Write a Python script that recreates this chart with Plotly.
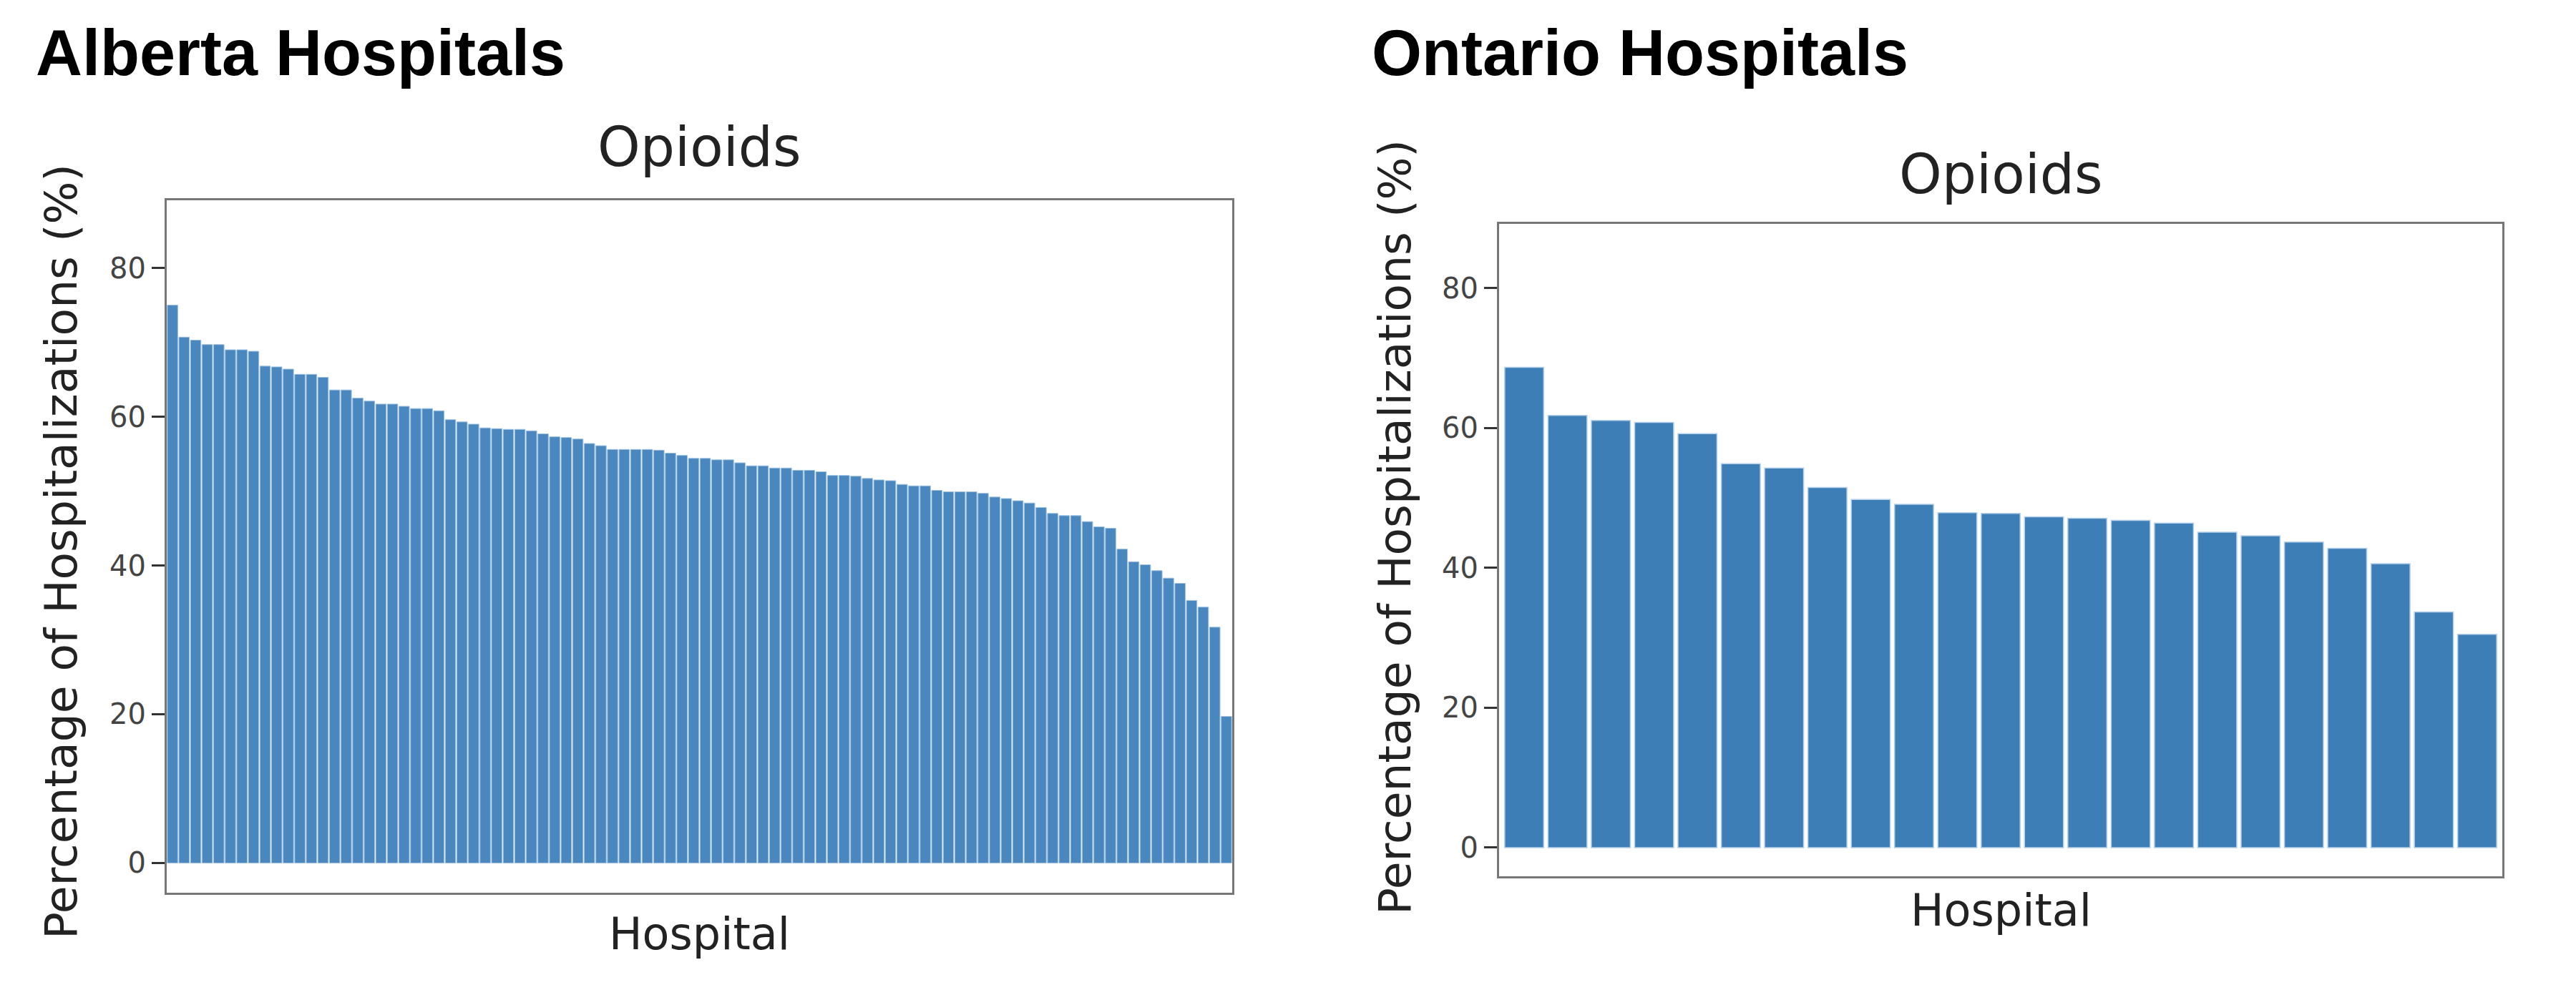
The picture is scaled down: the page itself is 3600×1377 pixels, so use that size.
import plotly.graph_objects as go

# ---------------- data ----------------
alberta_values = [
    75.0, 70.7, 70.3, 69.7, 69.7, 69.0, 69.0, 68.8, 66.8, 66.7,
    66.4, 65.7, 65.7, 65.3, 63.6, 63.6, 62.5, 62.1, 61.7, 61.7,
    61.4, 61.1, 61.1, 60.8, 59.6, 59.3, 59.0, 58.5, 58.4, 58.3,
    58.3, 58.1, 57.7, 57.3, 57.2, 57.0, 56.4, 56.1, 55.6, 55.6,
    55.6, 55.6, 55.5, 55.1, 54.8, 54.4, 54.4, 54.2, 54.2, 53.8,
    53.4, 53.4, 53.1, 53.1, 52.8, 52.8, 52.6, 52.1, 52.1, 52.0,
    51.7, 51.5, 51.4, 50.9, 50.7, 50.7, 50.1, 49.9, 49.9, 49.9,
    49.7, 49.2, 49.0, 48.7, 48.4, 47.8, 47.0, 46.7, 46.7, 45.9,
    45.2, 45.0, 42.2, 40.5, 40.1, 39.3, 38.3, 37.6, 35.3, 34.4,
    31.7, 19.7,
]
alberta_hospitals = [f"AB-{i + 1}" for i in range(len(alberta_values))]

ontario_values = [
    68.7, 61.8, 61.1, 60.8, 59.2, 54.9, 54.3, 51.5, 49.8, 49.1,
    47.9, 47.8, 47.3, 47.1, 46.8, 46.4, 45.1, 44.6, 43.7, 42.8,
    40.6, 33.7, 30.5,
]
ontario_hospitals = [f"ON-{i + 1}" for i in range(len(ontario_values))]

y_ticks = [0, 20, 40, 60, 80]
panel_titles = ["Alberta Hospitals", "Ontario Hospitals"]
sub_title = "Opioids"
x_title = "Hospital"
y_title = "Percentage of Hospitalizations (%)"

# ---------------- figure ----------------
W, H = 3600, 1377
fig = go.Figure()

fig.add_trace(go.Bar(
    x=alberta_hospitals, y=alberta_values, xaxis="x", yaxis="y",
    marker=dict(color="#4a87bf", line=dict(color="#9cc0e0", width=1)),
    showlegend=False,
))
fig.add_trace(go.Bar(
    x=ontario_hospitals, y=ontario_values, xaxis="x2", yaxis="y2",
    marker=dict(color="#3e7eb6", line=dict(color="#b4d0ea", width=1.5)),
    showlegend=False,
))

tick_font = dict(family="DejaVu Sans", size=40, color="#444444")
frame = dict(showline=True, mirror=True, linecolor="#777777", linewidth=3,
             showgrid=False, zeroline=False)

def px_x(p):
    return p / W

def px_y(p):
    return 1 - p / H

fig.update_layout(
    width=W, height=H,
    margin=dict(l=0, r=0, t=0, b=0),
    paper_bgcolor="white", plot_bgcolor="white",
    bargap=0.1,
    xaxis=dict(domain=[px_x(233), px_x(1722)], range=[-0.5, len(alberta_values) - 0.5],
               showticklabels=False, ticks="", **frame),
    yaxis=dict(domain=[px_y(1248), px_y(280)], range=[-4.0, 89.1],
               tickvals=y_ticks, ticks="outside", ticklen=18, tickwidth=3,
               tickcolor="#333333", tickfont=tick_font, **frame),
    xaxis2=dict(domain=[px_x(2095), px_x(3497)], range=[-0.58, len(ontario_values) - 0.42],
                showticklabels=False, ticks="", anchor="y2", **frame),
    yaxis2=dict(domain=[px_y(1225), px_y(313)], range=[-4.1, 89.2], anchor="x2",
                tickvals=y_ticks, ticks="outside", ticklen=18, tickwidth=3,
                tickcolor="#333333", tickfont=tick_font, **frame),
)

big_font = dict(family="Liberation Sans, Arial", size=90, color="black")
sub_font = dict(family="DejaVu Sans", size=76, color="#222222")
xt_font = dict(family="DejaVu Sans", size=62, color="#222222")
yt_font = dict(family="DejaVu Sans", size=63, color="#222222")

annotations = [
    dict(text=f"<b>{panel_titles[0]}</b>", x=px_x(48), y=px_y(74), xanchor="left",
         yanchor="middle", font=big_font),
    dict(text=f"<b>{panel_titles[1]}</b>", x=px_x(1915), y=px_y(74), xanchor="left",
         yanchor="middle", font=big_font),
    dict(text=sub_title, x=px_x(977), y=px_y(205), xanchor="center", yanchor="middle",
         font=sub_font),
    dict(text=sub_title, x=px_x(2796), y=px_y(244), xanchor="center", yanchor="middle",
         font=sub_font),
    dict(text=x_title, x=px_x(977), y=px_y(1305), xanchor="center", yanchor="middle",
         font=xt_font),
    dict(text=x_title, x=px_x(2796), y=px_y(1272), xanchor="center", yanchor="middle",
         font=xt_font),
    dict(text=y_title, x=px_x(85), y=px_y(771), xanchor="center", yanchor="middle",
         textangle=-90, font=yt_font),
    dict(text=y_title, x=px_x(1949), y=px_y(737), xanchor="center", yanchor="middle",
         textangle=-90, font=yt_font),
]
for a in annotations:
    a.update(xref="paper", yref="paper", showarrow=False)
fig.update_layout(annotations=annotations)

fig.write_html("out.html")
